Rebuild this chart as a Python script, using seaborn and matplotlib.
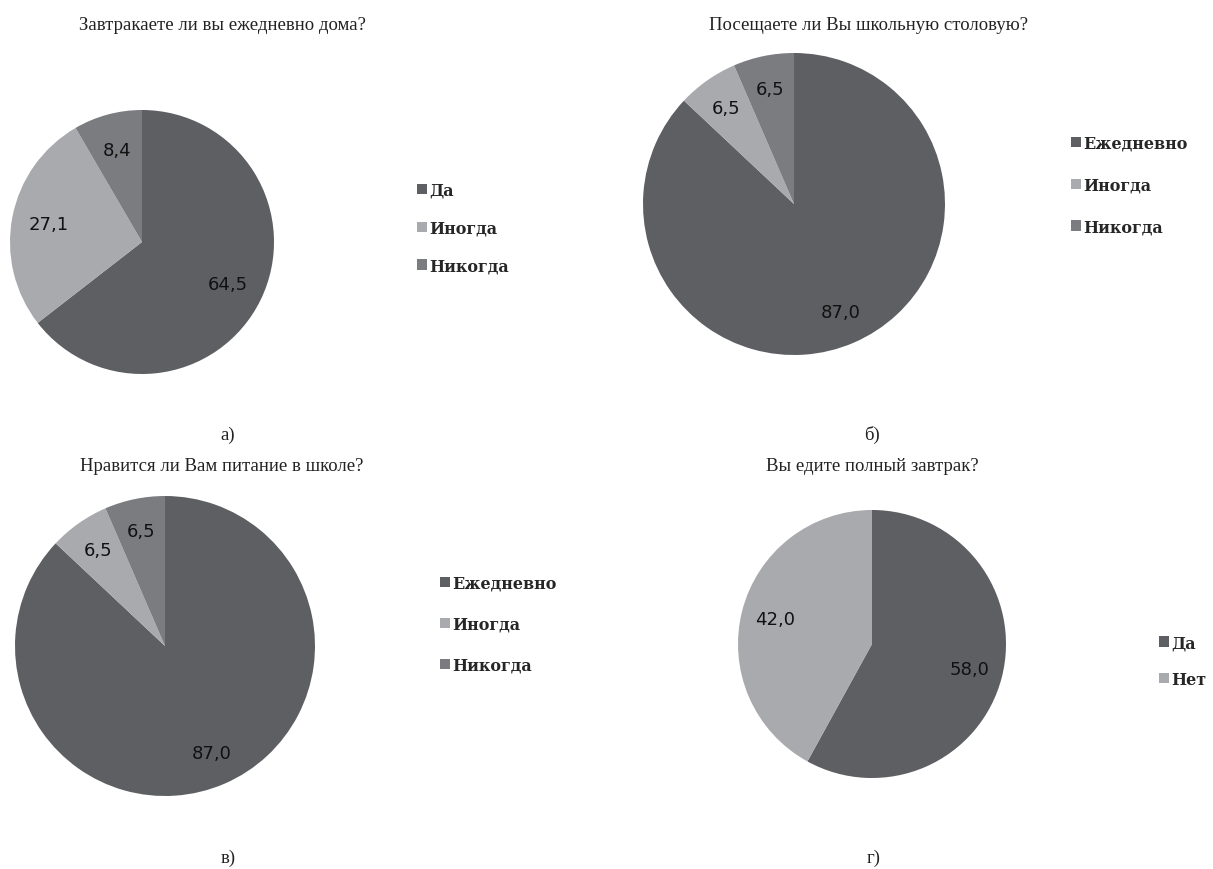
import matplotlib
matplotlib.use("Agg")
import matplotlib.pyplot as plt
import seaborn as sns

sns.set_theme(style="white")
plt.rcParams["font.family"] = ["Liberation Serif", "DejaVu Serif"]

# Survey answers, percent of respondents
q1_title = "Завтракаете ли вы ежедневно дома?"
q1_labels = ["Да", "Иногда", "Никогда"]
q1_values = [64.5, 27.1, 8.4]

q2_title = "Посещаете ли Вы школьную столовую?"
q2_labels = ["Ежедневно", "Иногда", "Никогда"]
q2_values = [87.0, 6.5, 6.5]

q3_title = "Нравится ли Вам питание в школе?"
q3_labels = ["Ежедневно", "Иногда", "Никогда"]
q3_values = [87.0, 6.5, 6.5]

q4_title = "Вы едите полный завтрак?"
q4_labels = ["Да", "Нет"]
q4_values = [58.0, 42.0]

panel_letters = ["а)", "б)", "в)", "г)"]

DARK, LIGHT, MID = "#5e5f63", "#a9aaae", "#7b7c80"
palette = [DARK, LIGHT, MID]

W, H = 1213, 870
fig = plt.figure(figsize=(W / 100, H / 100), dpi=100)
fig.patch.set_facecolor("white")


def px(x, y):
    """Pixel position (from top-left) to figure fraction."""
    return x / W, 1 - y / H


panels = [
    # pie centre/radius in px, label distance, legend anchor, title and letter positions
    dict(v=q1_values, l=q1_labels, t=q1_title, c=(142, 243), r=132, pd=0.72,
         leg=(417, 229), sp=1.3, tp=(222, 25), lp=(228, 435)),
    dict(v=q2_values, l=q2_labels, t=q2_title, c=(794, 205), r=151, pd=0.78,
         leg=(1071, 186), sp=1.55, tp=(868, 25), lp=(872, 435)),
    dict(v=q3_values, l=q3_labels, t=q3_title, c=(165, 647), r=150, pd=0.78,
         leg=(440, 625), sp=1.5, tp=(222, 467), lp=(228, 858)),
    dict(v=q4_values, l=q4_labels, t=q4_title, c=(872, 645), r=134, pd=0.75,
         leg=(1159, 662), sp=1.2, tp=(872, 467), lp=(874, 858)),
]

for p in panels:
    cx, cy = p["c"]
    r = p["r"]
    ax = fig.add_axes([(cx - r) / W, (H - cy - r) / H, 2 * r / W, 2 * r / H])
    wedges, _, autotexts = ax.pie(
        p["v"],
        colors=palette[: len(p["v"])],
        startangle=90,
        counterclock=False,
        radius=1,
        pctdistance=p["pd"],
        autopct=lambda pct, vals=p["v"]: f"{pct * sum(vals) / 100:.1f}".replace(".", ","),
        wedgeprops=dict(linewidth=0),
        textprops=dict(family="DejaVu Sans", fontsize=13, color="#111111"),
    )
    ax.set_xlim(-1, 1)
    ax.set_ylim(-1, 1)
    ax.axis("off")

    lx, ly = px(*p["leg"])
    fig.legend(
        wedges, p["l"],
        loc="center left", bbox_to_anchor=(lx, ly),
        frameon=False,
        prop=dict(family="DejaVu Serif", weight="bold", size=11.5),
        handlelength=0.65, handleheight=0.65, handletextpad=0.1,
        labelspacing=p["sp"], borderpad=0, borderaxespad=0,
    )

    tx, ty = px(*p["tp"])
    fig.text(tx, ty, p["t"], ha="center", va="center", fontsize=13.5, color="#222222")

for p, letter in zip(panels, panel_letters):
    lx, ly = px(*p["lp"])
    fig.text(lx, ly, letter, ha="center", va="center", fontsize=13.5, color="#222222")

fig.savefig("out.png", dpi=100, facecolor="white")
